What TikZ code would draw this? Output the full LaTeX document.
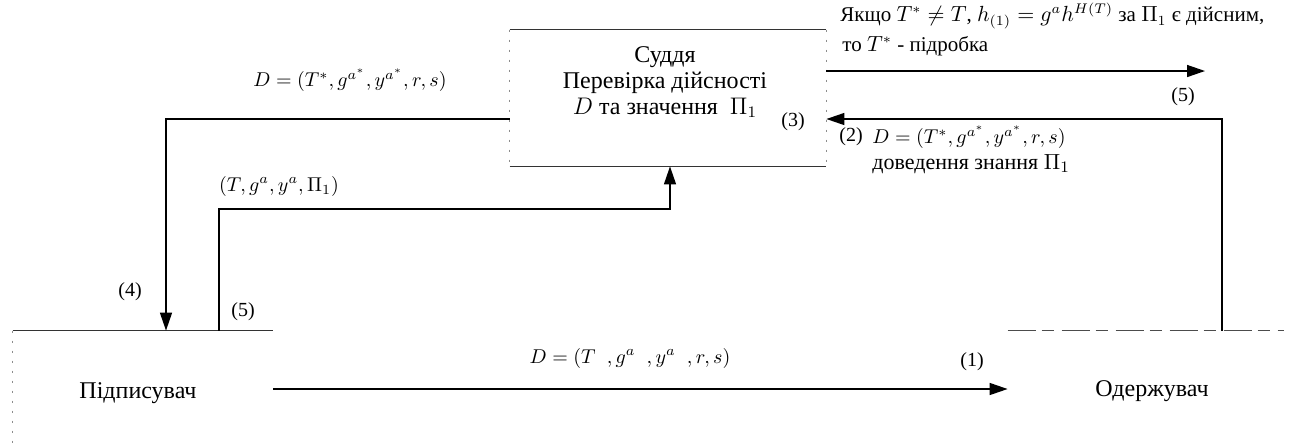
\documentclass[tikz,border=0pt]{standalone}
\usepackage{fontspec}
\setmainfont{Liberation Serif}
\usetikzlibrary{arrows.meta}
\begin{document}
\begin{tikzpicture}[x=0.5pt,y=-0.5pt,
  txt/.style={inner sep=0pt,font=\fontsize{12}{13}\selectfont},
  stxt/.style={inner sep=0pt,font=\fontsize{11}{12}\selectfont},
  mtxt/.style={inner sep=0pt,font=\fontsize{10}{12}\selectfont},
  region/.style={draw=none,inner sep=0pt,rectangle},
  arr/.style={line width=0.7pt,-{Triangle[length=9pt,width=6pt]}},
  edge/.style={line width=0.5pt,black!80},
  faint/.style={line width=0.4pt,black!45,dash pattern=on 1pt off 4pt},
  loose/.style={line width=0.5pt,black!70,dash pattern=on 14pt off 3pt on 6pt off 4pt}]
\useasboundingbox (0,0) rectangle (1291,447);
% regions
\node[region,minimum width=158pt,minimum height=68pt] (judge) at (668,98) {};
\node[region,minimum width=130pt,minimum height=58pt] (sig) at (143,389) {};
\node[region,minimum width=138pt,minimum height=58pt] (rec) at (1146,389) {};
% borders
\draw[edge] (judge.north west) -- (judge.north east);
\draw[edge] (judge.south west) -- (judge.south east);
\draw[faint] (judge.north west) -- (judge.south west);
\draw[faint] (judge.north east) -- (judge.south east);
\draw[edge] (sig.north west) -- (sig.north east);
\draw[faint] (sig.north west) -- (sig.south west);
\draw[loose] (rec.north west) -- (rec.north east);
% texts in regions
\node[txt,align=center] (jtext) at (665,82) {Суддя\\Перевірка дійсності\\$D$ та значення~~$\Pi_1$};
\node[txt] (sigtext) at (138,393) {Підписувач};
\node[txt] (rectext) at (1152,391) {Одержувач};
% bend coordinates
\coordinate (k2) at (1222,119);
\coordinate (k6) at (1205,71);
\coordinate (k4) at (166,119);
\coordinate (k5a) at (219,209);
\coordinate (k5b) at (670,209);
% connectors
\draw[arr] (sig.east) -- (rec.west);
\draw[arr] (rec.north -| k2) -- (k2) -- (judge.east |- k2);
\draw[arr] (judge.east |- k6) -- (k6);
\draw[arr] (judge.west |- k4) -- (k4) -- (k4 |- sig.north);
\draw[arr] (k5a |- sig.north) -- (k5a) -- (k5b) -- (k5b |- judge.south);
% labels
\node[stxt,anchor=west,font=\fontsize{10.5}{12}\selectfont] (top1) at (840,16) {Якщо $T^{*}\neq T$, $h_{(1)}=g^{a}h^{H(T)}$ за $\Pi_1$ є дійсним,};
\node[stxt,anchor=west,font=\fontsize{10.5}{12}\selectfont] (top2) at (842,46) {то $T^{*}$ - підробка};
\node[mtxt] (l5r) at (1183,97) {(5)};
\node[mtxt] (l3) at (793,122) {(3)};
\node[mtxt] (l2) at (851,137) {(2)};
\node[mtxt,anchor=west] (l2a) at (872,137) {$D=(T^{*},g^{a^{*}},y^{a^{*}},r,s)$};
\node[stxt,anchor=west] (l2b) at (872,164) {доведення знання $\Pi_1$};
\node[mtxt] (l4a) at (350,80) {$D=(T^{*},g^{a^{*}},y^{a^{*}},r,s)$};
\node[mtxt] (l4) at (130,292) {(4)};
\node[mtxt] (l5a) at (279,186) {$(T,g^{a},y^{a},\Pi_1)$};
\node[mtxt] (l5) at (243,312) {(5)};
\node[mtxt] (l1a) at (630,358) {$D=(T\;\;,g^{a}\;\;,y^{a}\;\;,r,s)$};
\node[mtxt] (l1) at (972,362) {(1)};
\end{tikzpicture}
\end{document}
